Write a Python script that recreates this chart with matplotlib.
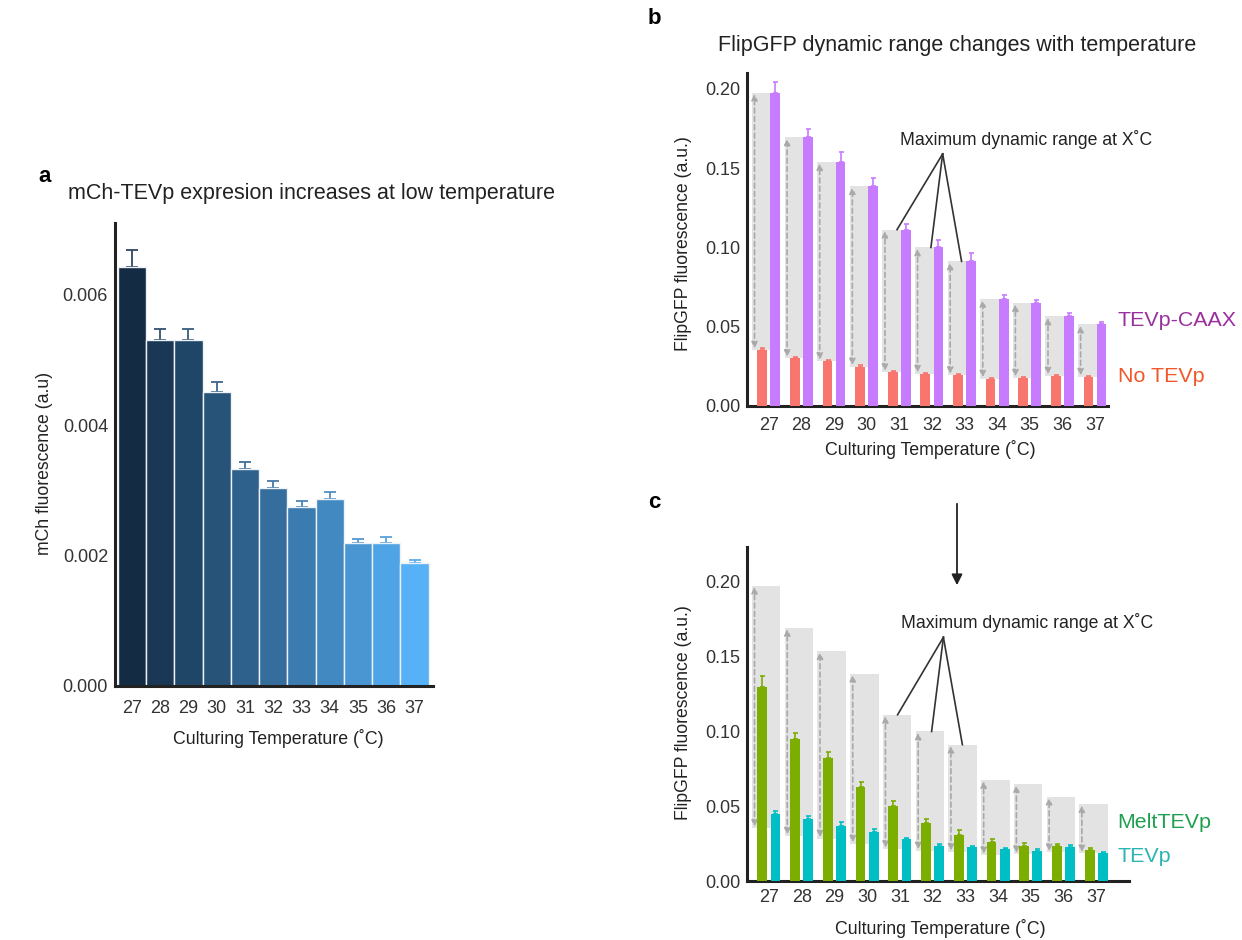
import numpy as np
import matplotlib
matplotlib.use('Agg')
import matplotlib.pyplot as plt
from matplotlib.colors import to_rgb

plt.rcParams['font.family'] = ['Liberation Sans', 'DejaVu Sans']

temps = ['27', '28', '29', '30', '31', '32', '33', '34', '35', '36', '37']

# panel a: mCh-TEVp expression
mch = [0.00643, 0.00530, 0.00531, 0.00451, 0.00332, 0.00303, 0.00274, 0.00287, 0.00219, 0.00220, 0.00188]
mch_err = [0.00026, 0.00018, 0.00017, 0.00015, 0.00011, 0.00011, 0.00010, 0.00010, 0.00007, 0.00008, 0.00005]

# panel b: TEVp-CAAX vs no TEVp
caax = [0.1976, 0.1694, 0.1538, 0.1387, 0.1112, 0.1000, 0.0912, 0.0676, 0.0649, 0.0565, 0.0514]
caax_err = [0.0065, 0.0055, 0.0063, 0.0053, 0.0038, 0.0044, 0.0052, 0.0025, 0.0021, 0.0021, 0.0015]
no_tev = [0.0355, 0.0302, 0.0283, 0.0249, 0.0213, 0.0203, 0.0194, 0.0172, 0.0178, 0.0191, 0.0184]
no_tev_err = [0.0010, 0.0010, 0.0009, 0.0008, 0.0008, 0.0007, 0.0007, 0.0006, 0.0006, 0.0006, 0.0006]

# panel c: MeltTEVp vs TEVp
melt = [0.1296, 0.0950, 0.0825, 0.0631, 0.0504, 0.0390, 0.0308, 0.0261, 0.0234, 0.0234, 0.0207]
melt_err = [0.0074, 0.0042, 0.0040, 0.0033, 0.0033, 0.0025, 0.0033, 0.0022, 0.0022, 0.0015, 0.0016]
tev = [0.0446, 0.0413, 0.0370, 0.0330, 0.0279, 0.0236, 0.0225, 0.0214, 0.0201, 0.0227, 0.0190]
tev_err = [0.0022, 0.0022, 0.0022, 0.0020, 0.0010, 0.0010, 0.0010, 0.0009, 0.0010, 0.0015, 0.0007]

W, H = 1242, 940
fig = plt.figure(figsize=(W / 100, H / 100), dpi=100)

TXT = '#222222'


def px_axes(l, r, t, b):
    return fig.add_axes([l / W, 1 - b / H, (r - l) / W, (b - t) / H])


def style(ax):
    for s in ['top', 'right']:
        ax.spines[s].set_visible(False)
    for s in ['left', 'bottom']:
        ax.spines[s].set_linewidth(2.2)
        ax.spines[s].set_color('#222222')
    ax.tick_params(length=0, labelsize=13, labelcolor='#333333')
    ax.tick_params(axis='y', pad=5)


x = np.arange(len(temps))

# ---- panel a
ax_a = px_axes(115, 433, 223, 686)
c0, c1 = np.array(to_rgb('#132B43')), np.array(to_rgb('#56B1F7'))
cols = [tuple(c0 + (c1 - c0) * t) for t in np.linspace(0, 1, len(temps))]
ax_a.bar(x, mch, width=1.0, color=cols, edgecolor='#eef2f6', linewidth=1.0, zorder=2)
for i in range(len(temps)):
    ecol = tuple(np.array(cols[i]) * 0.75 + 0.25 * np.array(to_rgb('#7fa0c0')))
    ax_a.errorbar(x[i], mch[i], yerr=[[0], [mch_err[i]]], fmt='none', ecolor=ecol,
                  elinewidth=1.3, capsize=4, capthick=1.3, zorder=1)
ax_a.set_xlim(-0.6, 10.65)
ax_a.set_ylim(0, 0.0071)
ax_a.set_yticks([0, 0.002, 0.004, 0.006])
ax_a.set_yticklabels(['0.000', '0.002', '0.004', '0.006'])
ax_a.set_xticks(x)
ax_a.set_xticklabels(temps)
style(ax_a)
ax_a.tick_params(axis='x', pad=10)

fig.text(311 / W, 1 - 193 / H, 'mCh-TEVp expresion increases at low temperature',
         ha='center', va='center', fontsize=15.5, color=TXT)
fig.text(45 / W, 1 - 463 / H, 'mCh fluorescence (a.u)', rotation=90,
         ha='center', va='center', fontsize=12.7, color=TXT)
fig.text(278 / W, 1 - 738 / H, 'Culturing Temperature (˚C)',
         ha='center', va='center', fontsize=12.8, color=TXT)
fig.text(38 / W, 1 - 176 / H, 'a', fontsize=16, fontweight='bold', ha='left', va='center')


def range_panel(ax, lo, hi, lo_err, hi_err, lo_col, hi_col, hub, text_y):
    ax.bar(x - 0.085, np.array(caax) - np.array(no_tev), bottom=no_tev, width=0.87,
           color='#e3e3e3', zorder=1)
    for i in range(len(temps)):
        ax.annotate('', xy=(x[i] - 0.44, caax[i]), xytext=(x[i] - 0.44, no_tev[i]),
                    arrowprops=dict(arrowstyle='<|-|>', color='#a9a9a9', ls=(0, (3, 2)),
                                    lw=1.2, mutation_scale=9, shrinkA=1, shrinkB=1), zorder=2)
    ax.bar(x - 0.2, lo, width=0.3, color=lo_col, zorder=3)
    ax.bar(x + 0.2, hi, width=0.3, color=hi_col, zorder=3)
    ax.errorbar(x - 0.2, lo, yerr=[np.zeros(len(lo)), lo_err], fmt='none', ecolor=lo_col,
                elinewidth=1.2, capsize=1.8, capthick=1.2, zorder=2)
    ax.errorbar(x + 0.2, hi, yerr=[np.zeros(len(hi)), hi_err], fmt='none', ecolor=hi_col,
                elinewidth=1.2, capsize=1.8, capthick=1.2, zorder=2)
    for idx, off in [(4, -0.07), (5, -0.03), (6, -0.09)]:
        ax.plot([hub[0], x[idx] + off], [hub[1], caax[idx]], color='#333333', lw=1.2,
                zorder=4, clip_on=False)
    ax.text(7.9, text_y, 'Maximum dynamic range at X˚C', ha='center', va='center',
            fontsize=12.7, color=TXT)
    ax.set_xticks(x)
    ax.set_xticklabels(temps)
    ax.set_yticks([0, 0.05, 0.10, 0.15, 0.20])
    ax.set_yticklabels(['0.00', '0.05', '0.10', '0.15', '0.20'])
    style(ax)


# ---- panel b
ax_b = px_axes(747, 1108, 73, 406)
range_panel(ax_b, no_tev, caax, no_tev_err, caax_err, '#F8766D', '#C77CFF', (5.33, 0.159), 0.168)
ax_b.set_xlim(-0.67, 10.4)
ax_b.set_ylim(0, 0.21)
ax_b.tick_params(axis='x', pad=8)

fig.text(957 / W, 1 - 46 / H, 'FlipGFP dynamic range changes with temperature',
         ha='center', va='center', fontsize=15.5, color=TXT)
fig.text(684 / W, 1 - 244 / H, 'FlipGFP fluorescence (a.u.)', rotation=90,
         ha='center', va='center', fontsize=12.7, color=TXT)
fig.text(930 / W, 1 - 449 / H, 'Culturing Temperature (˚C)',
         ha='center', va='center', fontsize=12.8, color=TXT)
fig.text(1118 / W, 1 - 320 / H, 'TEVp-CAAX', fontsize=15.4, color='#9A2F9E', ha='left', va='center')
fig.text(1118 / W, 1 - 377 / H, 'No TEVp', fontsize=15.4, color='#F2572A', ha='left', va='center')
fig.text(648 / W, 1 - 18 / H, 'b', fontsize=16, fontweight='bold', ha='left', va='center')

# ---- panel c
ax_c = px_axes(747, 1129, 547, 881)
range_panel(ax_c, melt, tev, melt_err, tev_err, '#7CAE00', '#00BFC4', (5.33, 0.163), 0.1726)
ax_c.set_xlim(-0.67, 11.0)
ax_c.set_ylim(0, 0.2234)
ax_c.tick_params(axis='x', pad=6)

fig.text(684 / W, 1 - 713 / H, 'FlipGFP fluorescence (a.u.)', rotation=90,
         ha='center', va='center', fontsize=12.7, color=TXT)
fig.text(940 / W, 1 - 928 / H, 'Culturing Temperature (˚C)',
         ha='center', va='center', fontsize=12.8, color=TXT)
fig.text(1117 / W, 1 - 822 / H, 'MeltTEVp', fontsize=15.4, color='#1FA050', ha='left', va='center')
fig.text(1117 / W, 1 - 857 / H, 'TEVp', fontsize=15.4, color='#2AB5B0', ha='left', va='center')
fig.text(648 / W, 1 - 502 / H, 'c', fontsize=16, fontweight='bold', ha='left', va='center')

# arrow from b down to c
fig.patches.append(matplotlib.patches.FancyArrowPatch(
    (957 / W, 1 - 501 / H), (957 / W, 1 - 588 / H), transform=fig.transFigure,
    arrowstyle='-|>', mutation_scale=16, color='#222222', lw=1.3))

fig.savefig('out.png', dpi=100, facecolor='w')
